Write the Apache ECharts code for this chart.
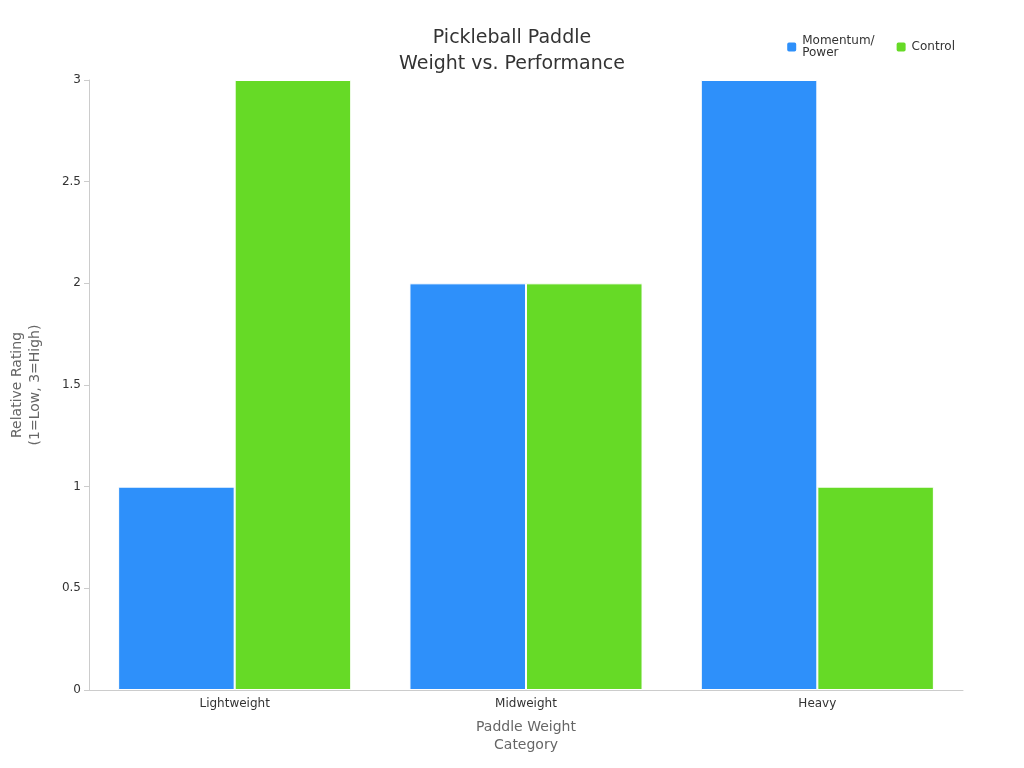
<!DOCTYPE html>
<html><head><meta charset="utf-8">
<script src="https://cdn.jsdelivr.net/npm/echarts@6/dist/echarts.min.js"></script>
<style>html,body{margin:0;padding:0}#c{width:1024px;height:768px}</style>
</head><body><div id="c"></div>
<script>
const categories = ['Lightweight', 'Midweight', 'Heavy'];
const momentumPower = [1, 2, 3];
const control = [3, 2, 1];
const chart = echarts.init(document.getElementById('c'));
chart.setOption({
  backgroundColor: '#fff',
  textStyle: { fontFamily: 'DejaVu Sans' },
  title: { text: 'Pickleball Paddle\nWeight vs. Performance', left: 'center', top: 20,
    textStyle: { fontSize: 19, fontWeight: 'normal', color: '#333', lineHeight: 26, fontFamily: 'DejaVu Sans' } },
  legend: { top: 30, right: 64, itemWidth: 11, itemHeight: 11, itemGap: 20,
    textStyle: { fontSize: 12, color: '#333', fontFamily: 'DejaVu Sans' },
    data: ['Momentum/\nPower', 'Control'] },
  grid: { left: 82, right: 61, top: 80, bottom: 78 },
  xAxis: { type: 'category', data: categories,
    name: 'Paddle Weight\nCategory', nameLocation: 'middle', nameGap: 28,
    nameTextStyle: { fontSize: 14, color: '#666', lineHeight: 18 },
    axisLine: { lineStyle: { color: '#ccc' } }, axisTick: { show: false },
    axisLabel: { color: '#333', fontSize: 12 } },
  yAxis: { type: 'value', min: 0, max: 3, interval: 0.5,
    name: 'Relative Rating\n(1=Low, 3=High)', nameLocation: 'middle', nameGap: 45,
    nameTextStyle: { fontSize: 14, color: '#666', lineHeight: 18 },
    axisLine: { show: true, lineStyle: { color: '#ccc' } },
    axisTick: { show: true, lineStyle: { color: '#ccc' } },
    splitLine: { show: false },
    axisLabel: { color: '#333', fontSize: 12 } },
  series: [
    { name: 'Momentum/\nPower', type: 'bar', data: momentumPower, barGap: '0%', barCategoryGap: '20%',
      itemStyle: { color: '#2E90FA', borderColor: '#fff', borderWidth: 1 } },
    { name: 'Control', type: 'bar', data: control,
      itemStyle: { color: '#66DA26', borderColor: '#fff', borderWidth: 1 } }
  ]
});
</script></body></html>
